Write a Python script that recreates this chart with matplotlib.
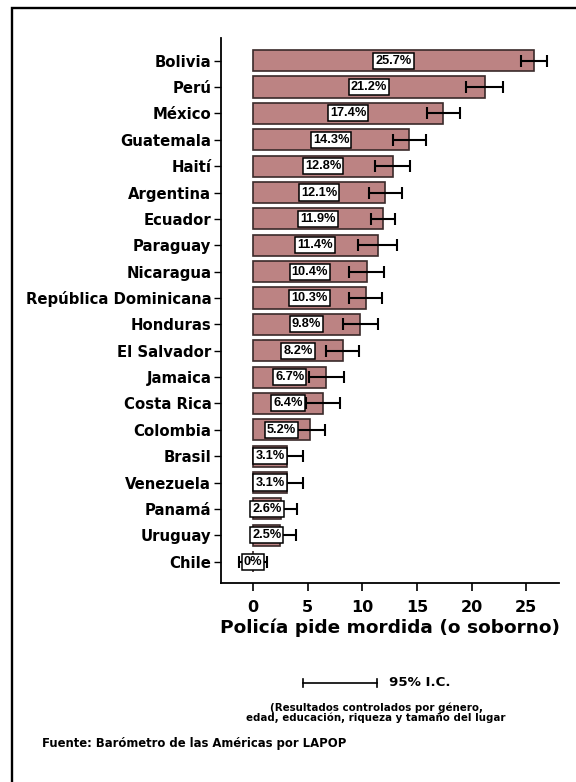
import matplotlib
matplotlib.use("Agg")
from matplotlib import pyplot as plt
from matplotlib.lines import Line2D
from matplotlib.patches import Rectangle

plt.rcParams['font.family'] = ['DejaVu Sans']
plt.rcParams['font.weight'] = 'bold'

paises = ["Bolivia", "Perú", "México", "Guatemala", "Haití", "Argentina",
          "Ecuador", "Paraguay", "Nicaragua", "República Dominicana",
          "Honduras", "El Salvador", "Jamaica", "Costa Rica", "Colombia",
          "Brasil", "Venezuela", "Panamá", "Uruguay", "Chile"]
valores = [25.7, 21.2, 17.4, 14.3, 12.8, 12.1, 11.9, 11.4, 10.4, 10.3,
           9.8, 8.2, 6.7, 6.4, 5.2, 3.1, 3.1, 2.6, 2.5, 0.0]
errores = [1.2, 1.7, 1.5, 1.5, 1.6, 1.5, 1.1, 1.8, 1.6, 1.5,
           1.6, 1.5, 1.6, 1.55, 1.4, 1.5, 1.5, 1.4, 1.4, 1.3]
etiquetas = ["25.7%", "21.2%", "17.4%", "14.3%", "12.8%", "12.1%", "11.9%",
             "11.4%", "10.4%", "10.3%", "9.8%", "8.2%", "6.7%", "6.4%",
             "5.2%", "3.1%", "3.1%", "2.6%", "2.5%", "0%"]
xticks = [0, 5, 10, 15, 20, 25]

fig = plt.figure(figsize=(5.76, 7.82), dpi=100)
ax = fig.add_axes([221/576, 1-583/782, (559-221)/576, (583-38)/782])

n = len(paises)
pos = [n - 1 - i for i in range(n)]

ax.barh(pos, valores, height=0.8, color='#bc8383', edgecolor='#3a2a2a',
        linewidth=1.2, zorder=2)
ax.errorbar(valores, pos, xerr=errores, fmt='none', ecolor='black',
            elinewidth=1.5, capsize=4, capthick=1.5, zorder=3)
for v, p, t in zip(valores, pos, etiquetas):
    ax.text(v / 2, p, t, ha='center', va='center', fontsize=9.2,
            family=['Liberation Sans', 'DejaVu Sans'], fontweight='bold', zorder=4,
            bbox=dict(boxstyle='square,pad=0.16', fc='white', ec='black', lw=1.1))

ax.set_yticks(pos)
ax.set_yticklabels(paises, fontsize=10.7, fontweight='bold')
ax.set_xticks(xticks)
ax.set_xticklabels([str(x) for x in xticks], fontsize=11.5, fontweight='bold')
ax.set_xlim(-2.93, 28.0)
ax.set_ylim(-0.81, n - 1 + 0.86)
ax.set_xlabel("Policía pide mordida (o soborno)", fontsize=13.3,
              fontweight='bold', labelpad=3)

for s in ['top', 'right']:
    ax.spines[s].set_visible(False)
for s in ['left', 'bottom']:
    ax.spines[s].set_linewidth(1.3)
ax.tick_params(axis='y', length=5, width=1, pad=2)
ax.tick_params(axis='x', length=6, width=1.2, pad=6)

# marco de la figura
fig.add_artist(Rectangle((12/576, -0.1), 1.2, 1.1 - 8/782, transform=fig.transFigure,
                         fill=False, ec='black', lw=1.7, clip_on=False))

# leyenda del intervalo de confianza
yl = 1 - 683/782
x0, x1 = 303/576, 377/576
fig.add_artist(Line2D([x0, x1], [yl, yl], transform=fig.transFigure, color='black', lw=1.2))
for xx in [x0, x1]:
    fig.add_artist(Line2D([xx, xx], [yl - 4/782, yl + 4/782],
                          transform=fig.transFigure, color='black', lw=1.2))
fig.text(389/576, yl, "95% I.C.", fontsize=9.6, fontweight='bold', va='center')

fig.text(376/576, 1 - 713/782,
         "(Resultados controlados por género,\nedad, educación, riqueza y tamaño del lugar",
         fontsize=7.4, fontweight='bold', ha='center', va='center', linespacing=0.95)
fig.text(42/576, 1 - 743/782, "Fuente: Barómetro de las Américas por LAPOP",
         fontsize=8.4, fontweight='bold', va='center')

fig.savefig("out.png", dpi=100)
